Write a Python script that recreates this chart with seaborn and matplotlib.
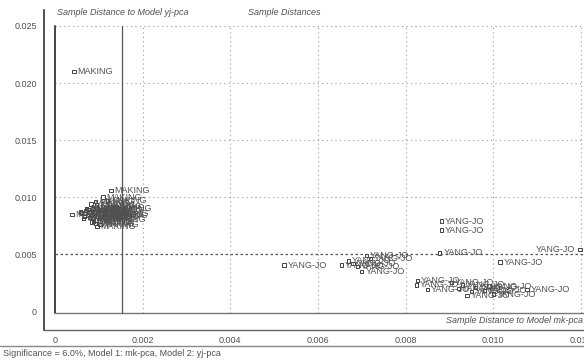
import matplotlib
matplotlib.use("Agg")
import matplotlib.pyplot as plt
import seaborn as sns
import pandas as pd
from matplotlib.ticker import FixedLocator, MultipleLocator

# ---- data ----
making_x = [0.00043, 0.00128, 0.00039, 0.00110, 0.00120, 0.00095, 0.00085, 0.00070, 0.00060,
            0.00075, 0.00090, 0.00100, 0.00115, 0.00125, 0.00080, 0.00065, 0.00105, 0.00118,
            0.00088, 0.00098, 0.00072, 0.00082, 0.00112, 0.00093, 0.00068, 0.00103, 0.00122,
            0.00078, 0.00086, 0.00108, 0.00096, 0.00058, 0.00132, 0.00092, 0.00084, 0.00101,
            0.00089, 0.00077, 0.00113, 0.00094]
making_y = [0.02100, 0.01060, 0.00850, 0.01000, 0.00970, 0.00930, 0.00900, 0.00880, 0.00860,
            0.00840, 0.00870, 0.00890, 0.00910, 0.00860, 0.00820, 0.00810, 0.00830, 0.00800,
            0.00790, 0.00850, 0.00900, 0.00940, 0.00880, 0.00770, 0.00830, 0.00760, 0.00840,
            0.00870, 0.00810, 0.00920, 0.00740, 0.00870, 0.00900, 0.00960, 0.00780, 0.00820,
            0.00860, 0.00890, 0.00850, 0.00800]
yang_x = [0.00882, 0.00882, 0.00878, 0.00523, 0.00654, 0.00711, 0.00670, 0.00690, 0.00700,
          0.00720, 0.00680, 0.01015, 0.00827, 0.00825, 0.00850, 0.00920, 0.00950,
          0.00980, 0.01000, 0.00960, 0.00940, 0.01077, 0.00990, 0.00930, 0.00905, 0.01198]
yang_y = [0.00790, 0.00710, 0.00510, 0.00404, 0.00404, 0.00490, 0.00440, 0.00390, 0.00350,
          0.00460, 0.00420, 0.00430, 0.00270, 0.00230, 0.00190, 0.00200, 0.00170,
          0.00180, 0.00150, 0.00210, 0.00140, 0.00190, 0.00220, 0.00230, 0.00250, 0.00540]

samples = ["MAKING"] * len(making_x) + ["YANG-JO"] * len(yang_x)
df = pd.DataFrame({"x": making_x + yang_x, "y": making_y + yang_y, "name": samples})

x_ticks = [0, 0.002, 0.004, 0.006, 0.008, 0.010, 0.012]
x_tick_labels = ["0", "0.002", "0.004", "0.006", "0.008", "0.010", "0.012"]
y_ticks = [0, 0.005, 0.010, 0.015, 0.020, 0.025]
y_tick_labels = ["0", "0.005", "0.010", "0.015", "0.020", "0.025"]
limit_x = 0.00152
limit_y = 0.005

title_left = "Sample Distance to Model yj-pca"
title_mid = "Sample Distances"
xlabel = "Sample Distance to Model mk-pca"
footer = "Significance = 6.0%, Model 1: mk-pca, Model 2: yj-pca"

# ---- style ----
sns.set_style("white")
plt.rcParams['font.family'] = ['Liberation Sans', 'DejaVu Sans']
tc = "#505050"

W, H = 584, 361
fig = plt.figure(figsize=(W / 100, H / 100), dpi=100)
ax = fig.add_axes([44 / W, (H - 330) / H, (W - 44) / W, (330 - 10) / H])
ax.set_xlim(-0.00025, 0.01207)
ax.set_ylim(-0.00165, 0.0264)

for s in ["top", "right"]:
    ax.spines[s].set_visible(False)
ax.spines["left"].set_color("#333333")
ax.spines["left"].set_linewidth(1.2)
ax.spines["bottom"].set_color("#666666")
ax.spines["bottom"].set_linewidth(1.0)

# grid
for gx in x_ticks[1:]:
    ax.plot([gx, gx], [-0.0002, 0.025], ls=(0, (1, 3)), color="#999999", lw=0.8, zorder=1)
for gy in y_ticks[2:]:
    ax.plot([0, 0.0125], [gy, gy], ls=(0, (1, 3)), color="#999999", lw=0.8, zorder=1)
# inner frame
ax.plot([0, 0], [-0.0002, 0.025], color="#444444", lw=1.4, zorder=2)
ax.plot([0, 0.0125], [-0.0002, -0.0002], color="#777777", lw=1.0, zorder=2)
# critical limits
ax.plot([limit_x, limit_x], [-0.0002, 0.025], color="#555555", lw=0.9, zorder=2)
ax.plot([0, 0.0125], [limit_y, limit_y], ls=(0, (2, 2)), color="#555555", lw=0.9, zorder=2)

sns.scatterplot(data=df, x="x", y="y", marker="s", s=6, facecolor="none",
                edgecolor="#444444", linewidth=0.7, legend=False, ax=ax, zorder=3)
for xv, yv, nm in zip(df["x"], df["y"], df["name"]):
    if xv > 0.0115:
        ax.text(xv - 0.00012, yv, nm, fontsize=6.5, color=tc, ha="right",
                va="center", zorder=4)
    else:
        ax.text(xv + 0.00008, yv, nm, fontsize=6.5, color=tc, ha="left",
                va="center", zorder=4)

ax.xaxis.set_major_locator(FixedLocator(x_ticks))
ax.set_xticklabels(x_tick_labels)
ax.xaxis.set_minor_locator(MultipleLocator(0.0005))
ax.yaxis.set_major_locator(FixedLocator(y_ticks))
ax.set_yticklabels(y_tick_labels)
ax.yaxis.set_minor_locator(MultipleLocator(0.001))
ax.tick_params(axis="x", which="major", direction="out", length=3, width=0.8,
               colors="#666666", labelcolor=tc, labelsize=6.5, pad=1)
ax.tick_params(axis="x", which="minor", direction="in", length=2, width=0.6, colors="#666666")
ax.tick_params(axis="y", which="major", direction="out", length=3, width=0.8,
               colors="#666666", labelcolor=tc, labelsize=6.5, pad=2)
ax.tick_params(axis="y", which="minor", direction="out", length=1.5, width=0.6, colors="#666666")
ax.set_xlabel("")
ax.set_ylabel("")

ax.text(0.00005, 0.0262, title_left, fontsize=6.5, style="italic", color=tc, va="center")
ax.text(0.0044, 0.0262, title_mid, fontsize=6.5, style="italic", color=tc, va="center")
ax.text(0.01205, -0.00085, xlabel, fontsize=6.5, style="italic", color=tc, ha="right", va="center")

fig.add_artist(plt.Line2D([0, 1], [(H - 346) / H, (H - 346) / H], color="#888888", lw=1.0))
fig.text(3 / W, (H - 353) / H, footer, fontsize=6.5, color=tc, va="center")

fig.savefig("out.png", dpi=100, facecolor="white")
